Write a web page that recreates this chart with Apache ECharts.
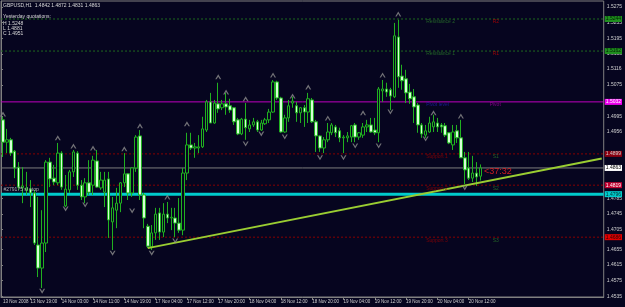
<!DOCTYPE html>
<html><head><meta charset="utf-8">
<script src="https://cdn.jsdelivr.net/npm/echarts@6/dist/echarts.min.js"></script>
<style>html,body{margin:0;padding:0;background:#06051f;}#c{width:625px;height:307px;}</style>
</head><body><div id="c"></div><script>
// ---- data ----
const opens  = [1.4986,1.4929,1.4935,1.4906,1.4865,1.4812,1.4807,1.4809,1.4799,1.4666,1.4607,1.4671,1.4878,1.4837,1.4825,1.4901,1.4766,1.4807,1.4853,1.4901,1.4819,1.4789,1.4825,1.4819,1.4881,1.4812,1.4801,1.4835,1.4725,1.4755,1.4773,1.4825,1.4848,1.4799,1.4863,1.4945,1.4794,1.4714,1.4661,1.4697,1.4748,1.4699,1.4745,1.4735,1.4735,1.4722,1.4704,1.4850,1.4922,1.4914,1.4914,1.4917,1.4960,1.5032,1.4978,1.5027,1.5017,1.5027,1.5022,1.5017,1.4986,1.4950,1.4988,1.4963,1.4973,1.4981,1.4960,1.4976,1.4986,1.5006,1.5083,1.5042,1.4955,1.4991,1.5029,1.5022,1.5004,1.5017,1.5006,1.5037,1.4981,1.4945,1.4914,1.4935,1.4953,1.4968,1.4958,1.4940,1.4940,1.4942,1.4973,1.4942,1.4947,1.4968,1.4973,1.4960,1.4953,1.5060,1.5065,1.5063,1.5045,1.5198,1.5098,1.5091,1.5057,1.5045,1.5024,1.4973,1.4947,1.4955,1.4968,1.4978,1.4973,1.4971,1.4953,1.4922,1.4958,1.4940,1.4889,1.4863,1.4837,1.4850,1.4842];
const closes = [1.4929,1.4935,1.4901,1.4863,1.4814,1.4817,1.4812,1.4799,1.4671,1.4607,1.4671,1.4878,1.4835,1.4827,1.4901,1.4814,1.4809,1.4853,1.4904,1.4819,1.4789,1.4825,1.4801,1.4883,1.4814,1.4832,1.4832,1.4730,1.4761,1.4773,1.4825,1.4848,1.4799,1.4863,1.4942,1.4794,1.4735,1.4663,1.4697,1.4745,1.4699,1.4745,1.4735,1.4737,1.4722,1.4704,1.4850,1.4922,1.4914,1.4917,1.4917,1.4963,1.5032,1.4978,1.5029,1.5014,1.5027,1.5019,1.5011,1.4981,1.4950,1.4988,1.4966,1.4973,1.4981,1.4960,1.4978,1.4986,1.5006,1.5083,1.5042,1.4955,1.4991,1.5022,1.5034,1.5004,1.5017,1.5006,1.5040,1.4981,1.4945,1.4914,1.4935,1.4955,1.4973,1.4953,1.4940,1.4942,1.4945,1.4971,1.4942,1.4953,1.4968,1.4973,1.4955,1.4953,1.5065,1.5065,1.5057,1.5047,1.5201,1.5096,1.5086,1.5055,1.5040,1.5019,1.4973,1.4950,1.4958,1.4978,1.4981,1.4968,1.4968,1.4947,1.4927,1.4955,1.4940,1.4889,1.4858,1.4837,1.4850,1.4840,1.4863];
const lows   = [1.4891,1.4901,1.4894,1.4837,1.4807,1.4773,1.4794,1.4763,1.4666,1.4584,1.4556,1.4648,1.4814,1.4819,1.4819,1.4807,1.4763,1.4799,1.4840,1.4807,1.4781,1.4773,1.4794,1.4794,1.4812,1.4807,1.4763,1.4684,1.4653,1.4709,1.4750,1.4814,1.4781,1.4789,1.4853,1.4781,1.4709,1.4658,1.4653,1.4679,1.4679,1.4686,1.4722,1.4704,1.4686,1.4697,1.4691,1.4832,1.4909,1.4889,1.4901,1.4914,1.4955,1.4978,1.4976,1.5004,1.5011,1.4999,1.5004,1.4973,1.4947,1.4947,1.4935,1.4955,1.4968,1.4955,1.4958,1.4973,1.4978,1.5004,1.5037,1.4953,1.4953,1.4981,1.5017,1.4981,1.4978,1.4968,1.4978,1.4978,1.4904,1.4904,1.4901,1.4929,1.4947,1.4942,1.4929,1.4901,1.4929,1.4929,1.4929,1.4935,1.4940,1.4955,1.4953,1.4947,1.4929,1.5032,1.5045,1.5011,1.5042,1.5068,1.5063,1.5029,1.5027,1.4978,1.4953,1.4940,1.4940,1.4953,1.4955,1.4955,1.4953,1.4942,1.4924,1.4909,1.4927,1.4889,1.4822,1.4832,1.4827,1.4817,1.4831];
const highs  = [1.4994,1.4963,1.4940,1.4909,1.4878,1.4865,1.4853,1.4832,1.4807,1.4789,1.4755,1.4883,1.4889,1.4871,1.4927,1.4906,1.4845,1.4858,1.4909,1.4906,1.4832,1.4837,1.4883,1.4894,1.4909,1.4853,1.4853,1.4853,1.4789,1.4812,1.4827,1.4901,1.4850,1.4865,1.4947,1.4960,1.4799,1.4720,1.4717,1.4761,1.4761,1.4773,1.4776,1.4761,1.4761,1.4786,1.4863,1.4953,1.4953,1.4927,1.4947,1.4994,1.5037,1.5055,1.5037,1.5081,1.5037,1.5055,1.5040,1.5019,1.4991,1.4991,1.5029,1.4986,1.4991,1.4986,1.4986,1.4991,1.5014,1.5088,1.5086,1.5045,1.4999,1.5037,1.5045,1.5032,1.5019,1.5024,1.5055,1.5042,1.4986,1.4947,1.4942,1.4978,1.4978,1.4973,1.4966,1.4947,1.4955,1.4973,1.4978,1.4955,1.4978,1.4986,1.4991,1.4991,1.5070,1.5088,1.5081,1.5068,1.5234,1.5242,1.5127,1.5114,1.5078,1.5065,1.5029,1.4978,1.4973,1.4994,1.4999,1.4991,1.4978,1.4978,1.4955,1.4973,1.4973,1.4986,1.4904,1.4904,1.4894,1.4878,1.4872];
const barCount = 154; // visible bar slots incl. chart shift
const tickIndex = [0,7,15,23,31,39,47,55,63,71,79,87,95,103,111,119];
const tickText  = ['13 Nov 2008','13 Nov 19:00','14 Nov 03:00','14 Nov 11:00','14 Nov 19:00','17 Nov 04:00','17 Nov 12:00','17 Nov 20:00','18 Nov 04:00','18 Nov 12:00','18 Nov 20:00','19 Nov 04:00','19 Nov 12:00','19 Nov 20:00','20 Nov 04:00','20 Nov 12:00'];
const priceTicks = [1.5275,1.5235,1.5195,1.5155,1.5116,1.5075,1.4995,1.4956,1.4785,1.4745,1.4705,1.4655,1.4615,1.4575,1.4535];
const upFractalIdx = [0,14,18,23,31,35,42,47,55,57,62,69,74,78,83,92,97,101,110,117];
const upFractalVal = [1.5001,1.4940,1.4919,1.4914,1.4912,1.4971,1.4789,1.4976,1.5096,1.5057,1.5040,1.5101,1.5047,1.5070,1.4991,1.5004,1.5101,1.5257,1.5004,1.4996];
const dnFractalIdx = [10,16,21,28,33,38,44,62,66,72,81,87,90,96,99,108,118];
const dnFractalVal = [1.4548,1.4758,1.4768,1.4645,1.4753,1.4645,1.4676,1.4924,1.4950,1.4942,1.4889,1.4889,1.4919,1.4919,1.5006,1.4937,1.4812];
const levelNames  = ['Resistance 2','Resistance 1','Pivot level','Support 1','Support 2','Support 3'];
const levelTags   = ['R2','R1','Pivot','S1','S2','S3'];
const levelValues = [1.5244,1.5162,1.5032,1.4899,1.4819,1.4686];
const yesterdayKeys = ['H','L','C'];
const yesterdayVals = [1.5248,1.4881,1.4951];
const stopLevel = 1.4796;
const stopText = '#279175 sl stop';
const trendIdx = [37,153];
const trendVal = [1.4658,1.4887];
const countdownText = '<37:32';

// ---- styles ----
const BG = '#06051f';
const FONT = 'Liberation Sans';
const levelLine = ['#1f6a1f','#1f6a1f','#c000c0','#8a0000','#8a0000','#8a0000'];
const levelDash = [[2,2],[2,2],'solid',[2,2],[2,2],[2,2]];
const boxBg  = ['#1f8f1f','#1f8f1f','#ee00ee','#8a0010','#c00030','#e00000'];
const boxFg  = ['#002000','#002000','#ffffff','#d0d0d0','#ffffff','#300000'];
const nameColor = ['#2a7a2a','#2a7a2a','#2020b0','#9a0000','#9a0000','#9a0000'];
const tagColor  = ['#c00000','#c00000','#a000a0','#2a7a2a','#2a7a2a','#2a7a2a'];

const cats = Array.from({length: barCount}, (_, i) => String(i));
const candles = opens.map((o, i) => [o, closes[i], lows[i], highs[i]]);
const last = opens.length - 1;

// horizontal level: a line series on the hidden full-width value x axis, with a price box as end label
const hLine = (v, color, type, width, bg, fg, z) => ({
  type: 'line', xAxisIndex: 1, data: [[0, v], [1, v]], showSymbol: false, silent: true, z: z,
  lineStyle: {color: color, type: type, width: width},
  endLabel: {show: true, distance: 1, formatter: v.toFixed(4), fontSize: 5, fontFamily: FONT,
             color: fg, backgroundColor: bg, padding: [1, 1, 0, 1]}
});

const upPath = 'path://M0,5 L3,0 L6,5 L4.6,5 L3,2.4 L1.4,5 Z';
const dnPath = 'path://M0,0 L3,5 L6,0 L4.6,0 L3,2.6 L1.4,0 Z';

const textSeries = (data, fmt, color, offset, size) => ({
  type: 'scatter', symbolSize: 1, itemStyle: {color: 'rgba(0,0,0,0)'}, silent: true, z: 6,
  data: data,
  label: {show: true, position: 'right', distance: 0, offset: offset, color: color, fontSize: size,
          fontFamily: FONT, formatter: fmt}
});

const series = [];
levelValues.forEach((v, i) => series.push(hLine(v, levelLine[i], levelDash[i], 1, boxBg[i], boxFg[i], 1)));
series.push(hLine(closes[last], '#7c7c7c', 'solid', 1, '#ffffff', '#000000', 1));
series.push(hLine(stopLevel, '#00cccc', 'solid', 3, '#00cccc', '#003030', 2));
series.push(
  {type: 'candlestick', data: candles, barWidth: 3, z: 3,
   itemStyle: {color: BG, color0: '#d6ffd6', borderColor: '#20b020', borderColor0: '#20b020', borderWidth: 1}},
  {type: 'line', data: trendIdx.map((x, k) => [x, trendVal[k]]), showSymbol: false, z: 4,
   lineStyle: {color: '#9acd32', width: 2}},
  {type: 'scatter', data: upFractalIdx.map((x, k) => [x, upFractalVal[k]]), symbol: upPath, symbolSize: [6, 5],
   itemStyle: {color: '#8c8c8c'}, z: 4},
  {type: 'scatter', data: dnFractalIdx.map((x, k) => [x, dnFractalVal[k]]), symbol: dnPath, symbolSize: [6, 5],
   itemStyle: {color: '#8c8c8c'}, z: 4}
);
levelValues.forEach((v, i) => {
  series.push(textSeries([[108, v]], levelNames[i], nameColor[i], [0, 3], 5));
  series.push(textSeries([[125, v]], levelTags[i], tagColor[i], [i === 2 ? -3 : 0, 3], 5));
});
series.push(textSeries([[last, 1.4853]], countdownText, '#ff2020', [3, 0], 9));
series.push(textSeries([[0, stopLevel]], stopText, '#d8d8d8', [0, -5], 5));

const chart = echarts.init(document.getElementById('c'), null, {renderer: 'canvas'});
chart.setOption({
  animation: false,
  backgroundColor: BG,
  grid: {left: 1, right: 20, top: 1, bottom: 10, show: true, borderColor: '#808080', borderWidth: 1},
  xAxis: [{
    type: 'category', data: cats, boundaryGap: true,
    axisLine: {show: true, lineStyle: {color: '#808080'}},
    axisTick: {show: true, alignWithLabel: true, length: 3, interval: (i) => tickIndex.indexOf(i) > 0, lineStyle: {color: '#808080'}},
    axisLabel: {interval: (i) => tickIndex.indexOf(i) >= 0, showMinLabel: true, hideOverlap: false,
                formatter: (v) => tickText[tickIndex.indexOf(Number(v))] || '',
                align: 'left', margin: 2, color: '#d0d0d0', fontSize: 4.5, fontFamily: FONT},
    splitLine: {show: false}
  }, {
    type: 'value', min: 0, max: 1, show: false, position: 'top'
  }],
  yAxis: {
    type: 'value', position: 'right', min: 1.4533, max: 1.5290, scale: true,
    axisLine: {show: true, lineStyle: {color: '#808080'}},
    axisTick: {show: true, length: 2, customValues: priceTicks, lineStyle: {color: '#808080'}},
    axisLabel: {customValues: priceTicks, formatter: (v) => Number(v).toFixed(4), margin: 3,
                color: '#d0d0d0', fontSize: 5, fontFamily: FONT},
    splitLine: {show: false}
  },
  graphic: [
    {type: 'text', left: 3, top: 3, style: {text: 'GBPUSD,H1  ' + [opens[last], highs[last], lows[last], closes[last]].map(v => v.toFixed(4)).join(' '), fill: '#d8d8d8', fontSize: 5, fontFamily: FONT}},
    {type: 'text', left: 3, top: 14, style: {text: 'Yesterday quotations:', fill: '#d8d8d8', fontSize: 5, fontFamily: FONT}},
    {type: 'text', left: 3, top: 21, style: {text: yesterdayKeys.map((k, i) => k + ' ' + yesterdayVals[i].toFixed(4)).join('\n'), fill: '#d8d8d8', fontSize: 5, lineHeight: 5, fontFamily: FONT}}
  ],
  series: series
});
</script></body></html>
